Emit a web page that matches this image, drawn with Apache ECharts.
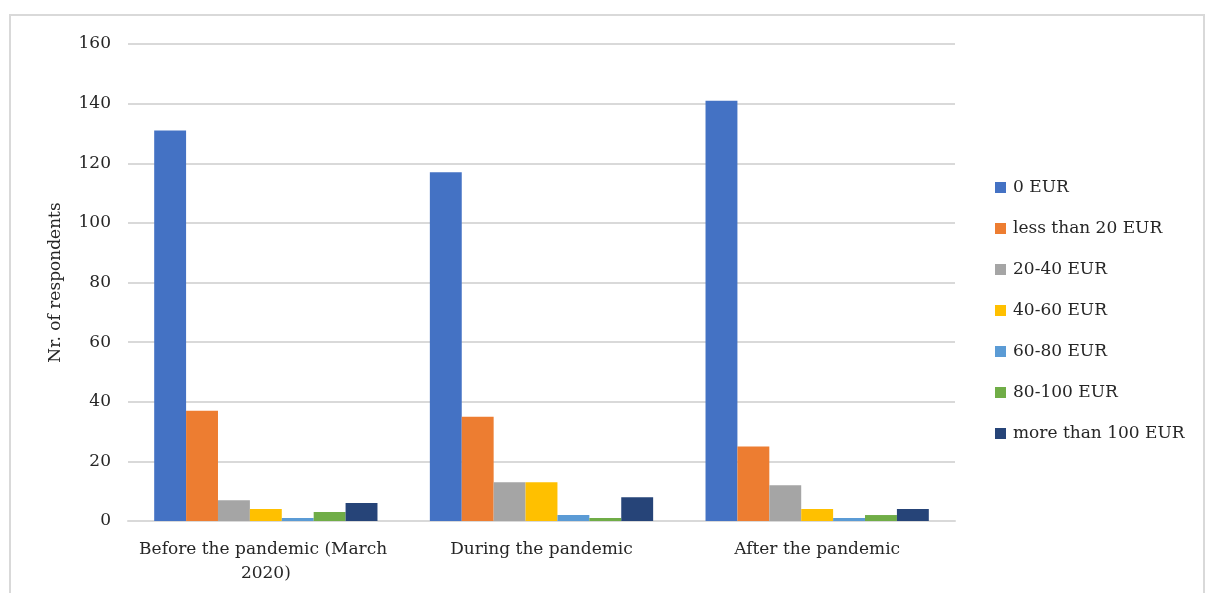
<!DOCTYPE html>
<html>
<head>
<meta charset="utf-8">
<script src="https://cdn.jsdelivr.net/npm/echarts@6/dist/echarts.min.js"></script>
<style>
  html, body { margin: 0; padding: 0; background: #fff; }
  #frame { position: absolute; left: 9px; top: 14px; width: 1196px; height: 600px; border: 2px solid #d9d9d9; box-sizing: border-box; }
  #chart { position: absolute; left: 0; top: 0; width: 1208px; height: 593px; }
</style>
</head>
<body>
<div id="frame"></div>
<div id="chart"></div>
<script>
const periods = ['Before the pandemic (March 2020)', 'During the pandemic', 'After the pandemic'];
const spendBands = ['0 EUR', 'less than 20 EUR', '20-40 EUR', '40-60 EUR', '60-80 EUR', '80-100 EUR', 'more than 100 EUR'];
const bandColors = ['#4472C4', '#ED7D31', '#A5A5A5', '#FFC000', '#5B9BD5', '#70AD47', '#264478'];

// respondents per spending band, one value per period
const eur0      = [131, 117, 141];
const eurLt20   = [37, 35, 25];
const eur20to40 = [7, 13, 12];
const eur40to60 = [4, 13, 4];
const eur60to80 = [1, 2, 1];
const eur80to100 = [3, 1, 2];
const eurGt100  = [6, 8, 4];
const bandValues = [eur0, eurLt20, eur20to40, eur40to60, eur60to80, eur80to100, eurGt100];

const font = 'DejaVu Serif, Liberation Serif, serif';
const chart = echarts.init(document.getElementById('chart'));
chart.setOption({
  animation: false,
  textStyle: { fontFamily: font },
  grid: { left: 128, right: 253, top: 44, bottom: 72 },
  legend: {
    orient: 'vertical',
    left: 995,
    top: 177,
    padding: 0,
    itemWidth: 11,
    itemHeight: 11,
    itemGap: 20,
    icon: 'rect',
    data: spendBands,
    textStyle: { fontFamily: font, fontSize: 17, color: '#262626', lineHeight: 19, padding: [2, 0, 0, 2] }
  },
  xAxis: {
    type: 'category',
    data: periods,
    axisLine: { lineStyle: { color: '#d9d9d9', width: 2 } },
    axisTick: { show: false },
    axisLabel: {
      interval: 0,
      fontFamily: font, fontSize: 17, color: '#262626', margin: 17,
      width: 270, overflow: 'break', lineHeight: 24
    }
  },
  yAxis: {
    type: 'value',
    min: 0, max: 160, interval: 20,
    name: 'Nr. of respondents',
    nameLocation: 'middle',
    nameGap: 64,
    nameTextStyle: { fontFamily: font, fontSize: 17, color: '#262626' },
    axisLine: { show: false },
    axisTick: { show: false },
    axisLabel: { fontFamily: font, fontSize: 17, color: '#262626', margin: 17 },
    splitLine: { lineStyle: { color: '#d9d9d9', width: 2 } }
  },
  series: spendBands.map((name, i) => ({
    name: name,
    type: 'bar',
    data: bandValues[i],
    barGap: '0%',
    barCategoryGap: '19%',
    itemStyle: { color: bandColors[i] }
  }))
});
</script>
</body>
</html>
